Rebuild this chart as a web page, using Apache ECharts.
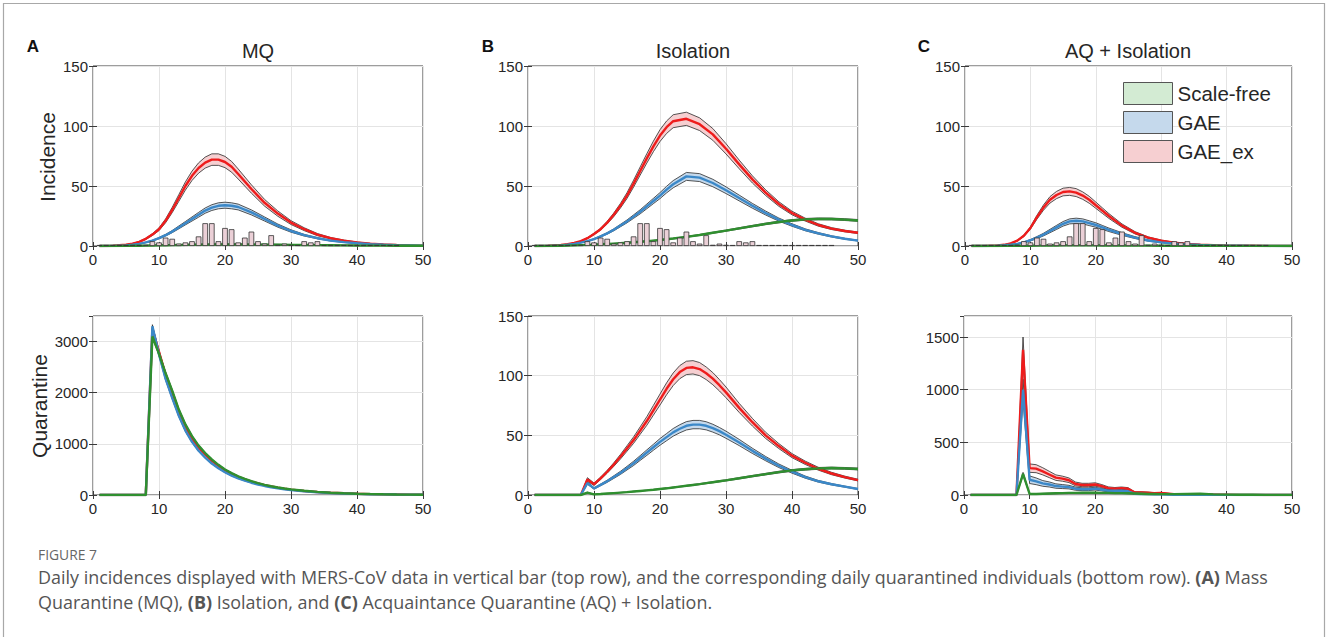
<!DOCTYPE html>
<html><head><meta charset="utf-8">
<script src="https://cdn.jsdelivr.net/npm/echarts@6/dist/echarts.min.js"></script>
<style>html,body{margin:0;padding:0;background:#fff;}#c{width:1328px;height:637px;}</style>
</head><body><div id="c"></div>
<script>
// ---------- DATA ----------
const TX = [1,3,5,6,7,8,9,10,11,12,13,14,15,16,17,18,19,20,21,22,24,26,28,30,32,34,36,38,40,42,44,46,48,50];
const BX = [1,7,8,9,10,11,12,13,14,15,16,17,18,19,20,21,22,23,24,25,26,27,28,29,30,32,34,36,38,40,42,44,46,48,50];

// MERS-CoV daily data (bars), days 1..46
const BAR_COUNTS = [0,0,0,0,0,0,0,1,4,3,7,6,2,3,4,8,19,19,4,15,14,3,7,12,4,2,9,1,2,1,0,4,3,4,0,0,0,0,0,0,0,0,0,0,0,0];

// Panel A top: MQ incidence
const MQ_INC_SF      = [0,0.05,0.1,0.15,0.2,0.3,0.4,0.5,0.6,0.7,0.8,0.9,1,1.1,1.15,1.2,1.2,1.2,1.2,1.2,1.15,1.1,1,0.9,0.8,0.7,0.6,0.5,0.4,0.35,0.3,0.25,0.2,0.2];
const MQ_INC_SF_HW   = [0,0,0.05,0.1,0.1,0.15,0.2,0.25,0.3,0.3,0.35,0.4,0.4,0.45,0.45,0.5,0.5,0.5,0.5,0.5,0.5,0.45,0.4,0.4,0.35,0.3,0.3,0.25,0.2,0.2,0.15,0.15,0.1,0.1];
const MQ_INC_GAE     = [0,0.1,0.5,1,1.8,3,4.5,6.5,9,12,15.5,19,22.5,26,29.5,32,33.5,34,33.5,32.5,28,22.5,17,12.5,9,6.5,4.5,3.2,2.3,1.6,1.1,0.7,0.5,0.3];
const MQ_INC_GAE_HW  = [0,0,0.05,0.1,0.15,0.25,0.35,0.5,0.7,0.9,1.2,1.4,1.7,2,2.2,2.4,2.5,2.5,2.5,2.4,2.1,1.7,1.3,1,0.7,0.5,0.35,0.25,0.2,0.15,0.1,0.05,0.05,0];
const MQ_INC_GAEX    = [0,0.2,1,2,3.5,6,9.5,14,21,30,40,50,58.5,65,69.5,72,72,70,66,60,47.5,36,27,19.5,14,9.5,6.5,4.5,3,2,1.3,0.8,0.5,0.3];
const MQ_INC_GAEX_HW = [0,0,0.1,0.2,0.3,0.5,0.8,1.1,1.6,2.2,2.8,3.4,3.9,4.3,4.6,4.8,4.8,4.7,4.5,4.2,3.5,2.8,2.2,1.6,1.2,0.9,0.6,0.45,0.3,0.2,0.15,0.1,0.1,0.05];

// Panel B top: Isolation incidence
const ISO_INC_SF      = [0,0,0.2,0.3,0.5,0.7,0.9,1.1,1.4,1.7,2,2.3,2.7,3.1,3.5,4,4.5,5,5.6,6.2,7.6,9.2,11,12.8,14.7,16.6,18.4,20,21.3,22.2,22.6,22.5,22,21.3];
const ISO_INC_SF_HW   = [0,0,0,0,0.05,0.05,0.1,0.1,0.1,0.15,0.15,0.15,0.2,0.2,0.2,0.25,0.25,0.3,0.3,0.3,0.35,0.4,0.45,0.5,0.55,0.6,0.65,0.7,0.7,0.75,0.75,0.75,0.75,0.75];
const ISO_INC_GAE     = [0,0.1,0.5,1,1.7,2.8,4,5.8,8,10.5,13.5,17,20.5,24.5,28.5,33,37.5,42,47,51.5,58,57,52.5,46.5,40,33.5,27.5,22,17.5,13.5,10.5,8,6,4.5];
const ISO_INC_GAE_HW  = [0,0,0.05,0.1,0.1,0.15,0.25,0.35,0.5,0.65,0.8,1,1.2,1.45,1.7,1.95,2.2,2.5,2.75,3,3.3,3.3,3.1,2.8,2.4,2,1.65,1.3,1.05,0.8,0.65,0.5,0.4,0.3];
const ISO_INC_GAEX    = [0,0.2,0.8,1.5,2.5,4,6.5,10,14,19.5,26,33.5,42,52,62.5,73,83,92,99,104,106,101.5,93,81,68,55.5,44.5,35,27.5,22,17.5,14.5,12.5,11];
const ISO_INC_GAEX_HW = [0,0,0.05,0.1,0.15,0.25,0.4,0.6,0.8,1.1,1.5,1.9,2.4,2.9,3.4,3.9,4.4,4.9,5.2,5.4,5.5,5.3,4.9,4.3,3.6,3,2.4,1.9,1.5,1.2,1,0.8,0.7,0.6];

// Panel C top: AQ + Isolation incidence
const AQ_INC_SF      = [0,0,0.05,0.1,0.1,0.15,0.2,0.25,0.3,0.35,0.4,0.45,0.5,0.5,0.5,0.5,0.5,0.5,0.45,0.45,0.4,0.35,0.3,0.25,0.2,0.2,0.15,0.15,0.1,0.1,0.1,0.05,0.05,0.05];
const AQ_INC_SF_HW   = [0,0,0,0.05,0.05,0.05,0.1,0.1,0.1,0.15,0.15,0.15,0.2,0.2,0.2,0.2,0.2,0.2,0.2,0.2,0.15,0.15,0.15,0.1,0.1,0.1,0.05,0.05,0.05,0.05,0,0,0,0];
const AQ_INC_GAE     = [0,0,0.3,0.6,1,1.8,3,4.8,7,9.5,12.5,15.5,18.5,20.5,21,20.5,19,17.5,15.5,13.5,10,7,4.6,3,2,1.3,0.8,0.5,0.3,0.2,0.1,0.1,0,0];
const AQ_INC_GAE_HW  = [0,0,0.05,0.1,0.15,0.25,0.4,0.6,0.85,1.1,1.4,1.7,1.9,2.1,2.2,2.1,2,1.85,1.65,1.45,1.1,0.8,0.55,0.35,0.25,0.15,0.1,0.05,0.05,0,0,0,0,0];
const AQ_INC_GAEX    = [0,0.1,0.5,1,2.2,4.5,8.5,15,24,32,38.5,42.5,45,45.5,44.5,42,38.5,34,29.5,25,17,11,7,4.5,2.8,1.8,1.1,0.7,0.4,0.3,0.2,0.1,0.1,0];
const AQ_INC_GAEX_HW = [0,0,0.05,0.1,0.2,0.35,0.6,1,1.6,2.2,2.7,3,3.2,3.3,3.3,3.1,2.9,2.6,2.3,2,1.4,0.95,0.6,0.4,0.25,0.15,0.1,0.05,0.05,0,0,0,0,0];

// Panel A bottom: MQ quarantine
const MQ_QUA_SF      = [0,0,0,3100,2760,2380,2040,1670,1380,1150,965,820,695,590,500,428,366,314,270,232,199,171,147,127,110,82,61,45,34,25,19,14,10,7.5,5];
const MQ_QUA_SF_HW   = [0,0,0,30,28,25,22,19,16,13,11,9,8,7,6,5,4.5,4,3.5,3,2.5,2.2,2,1.7,1.5,1.2,0.9,0.7,0.5,0.4,0.3,0.25,0.2,0.15,0.1];
const MQ_QUA_GAE     = [0,0,0,3300,2750,2270,1900,1550,1260,1040,865,730,615,525,445,380,325,280,240,206,177,152,131,113,97,72,54,40,30,22,16,12,9,6.5,4.5];
const MQ_QUA_GAE_HW  = [0,0,0,30,30,25,22,19,16,13,11,9,8,7,6,5,4.5,4,3.5,3,2.5,2.2,2,1.7,1.5,1.2,0.9,0.7,0.5,0.4,0.3,0.25,0.2,0.15,0.1];
const MQ_QUA_GAEX    = [0,0,0,3250,2800,2350,2000,1630,1340,1110,930,790,670,570,485,415,355,305,262,225,193,166,143,123,106,79,59,44,33,24,18,13,10,7,5];
const MQ_QUA_GAEX_HW = [0,0,0,40,35,30,26,22,18,15,13,11,9,8,7,6,5,4.5,4,3.5,3,2.5,2.2,2,1.7,1.3,1,0.8,0.6,0.5,0.4,0.3,0.2,0.2,0.1];

// Panel B bottom: Isolation quarantine
const ISO_QUA_SF      = [0,0,0,2,0.5,0.8,1.2,1.6,2,2.4,2.9,3.4,3.9,4.4,5,5.6,6.3,7,7.7,8.4,9.1,9.9,10.7,11.5,12.3,14,15.8,17.5,19.2,20.6,21.6,22.3,22.6,22.3,21.8];
const ISO_QUA_SF_HW   = [0,0,0,0.3,0.1,0.1,0.1,0.15,0.15,0.2,0.2,0.2,0.25,0.25,0.3,0.3,0.3,0.35,0.35,0.4,0.4,0.45,0.45,0.5,0.5,0.55,0.6,0.65,0.7,0.7,0.75,0.75,0.75,0.75,0.75];
const ISO_QUA_GAE     = [0,0,0,10,5.5,8.5,11.5,15,18.5,22.5,26.5,31,35.5,40,44.5,48.5,52.5,55.5,58,59,59,58,56,53.5,50.5,44,37,30.5,24.5,19.5,15,11.5,9,7,5];
const ISO_QUA_GAE_HW  = [0,0,0,1,0.6,0.7,0.9,1.1,1.3,1.5,1.8,2,2.3,2.5,2.8,3,3.2,3.4,3.5,3.5,3.5,3.4,3.3,3.1,3,2.6,2.2,1.8,1.5,1.2,0.9,0.7,0.55,0.45,0.35];
const ISO_QUA_GAEX    = [0,0,0,13,9,14,19.5,25.5,32,39,46,54,62,71,80,89,97,103,106.5,107,105.5,102,97.5,92,86,73,61,50,41,33,27,22,18,15,12.5];
const ISO_QUA_GAEX_HW = [0,0,0,1.5,1,1,1.2,1.5,1.9,2.3,2.7,3.1,3.6,4.1,4.6,5,5.3,5.5,5.6,5.6,5.5,5.3,5.1,4.8,4.5,3.8,3.2,2.6,2.1,1.7,1.4,1.2,1,0.8,0.7];

// Panel C bottom: AQ + Isolation quarantine
const AQ_QUA_SF      = [0,0,0,200,10,10,12,14,16,18,20,20,22,22,22,20,20,18,18,16,14,12,10,10,8,8,10,12,6,4,3,2,1,1,1];
const AQ_QUA_SF_HW   = [0,0,0,15,3,3,3,3,3,3,3,3,3,3,3,3,3,3,3,3,3,3,3,3,3,2,2,2,2,1,1,1,0.5,0.5,0.5];
const AQ_QUA_GAE     = [0,0,0,1000,145,130,110,100,85,80,75,60,55,55,60,50,40,40,40,35,12,10,8,6,6,3,2,3,1,1,0,0,0,0,0];
const AQ_QUA_GAE_HW  = [0,0,0,100,36,32,27,24,21,19,17,15,13,13,13,11,10,9,9,8,4,3,3,2,2,1,1,1,0.5,0.5,0,0,0,0,0];
const AQ_QUA_GAEX    = [0,0,0,1380,255,250,225,195,165,155,140,105,95,95,100,85,65,60,65,60,25,25,22,18,20,8,5,8,3,2,1,1,0,0,0];
const AQ_QUA_GAEX_HW = [0,0,0,120,40,38,34,30,26,24,22,18,16,16,16,14,12,11,11,10,6,6,5,4,4,2,2,2,1,1,0,0,0,0,0];

const X_TICKS = {min:0, max:50, interval:10};
const Y_RANGES = [[0,150,50],[0,150,50],[0,150,50],[0,3500,1000],[0,150,50],[0,1700,500]];
const TITLES = ['MQ','Isolation','AQ + Isolation'];
const LETTERS = ['A','B','C'];
const LEGEND_NAMES = ['Scale-free','GAE','GAE_ex'];

// ---------- STYLE / LAYOUT ----------
const FONT = '"Liberation Sans", Arial, Helvetica, sans-serif';
const TXT = '#262626';
const EDGE = '#2a2a2a';
const COL = {sf:'#2f8f2f', gae:'#3b88c8', gaex:'#ee1c1c'};
const FILL = {sf:'#d3ebd3', gae:'#c5d9ec', gaex:'#f6cfd1'};
const GRIDS = [
  {left:93, top:66, width:330, height:180},
  {left:528, top:66, width:330, height:180},
  {left:965, top:66, width:327, height:180},
  {left:93, top:316, width:330, height:179},
  {left:528, top:316, width:330, height:179},
  {left:964, top:316, width:328, height:179}
];

const xAxes = [], yAxes = [], grids = [];
GRIDS.forEach((g, i) => {
  grids.push(Object.assign({show:true, borderColor:'#3a3a3a', borderWidth:1, backgroundColor:'transparent', containLabel:false}, g));
  const yr = Y_RANGES[i];
  xAxes.push({type:'value', gridIndex:i, min:X_TICKS.min, max:X_TICKS.max, interval:X_TICKS.interval,
    axisLine:{show:false}, axisTick:{show:true, inside:true, length:4, lineStyle:{color:'#3a3a3a'}},
    axisLabel:{fontSize:15, color:TXT, fontFamily:FONT, margin:6, formatter:v => String(v)},
    splitLine:{show:true, lineStyle:{color:'#e4e4e4', width:1}}});
  xAxes.push({type:'value', gridIndex:i, position:'top', min:X_TICKS.min, max:X_TICKS.max, interval:X_TICKS.interval,
    axisLine:{show:false}, axisTick:{show:true, inside:true, length:4, lineStyle:{color:'#3a3a3a'}},
    axisLabel:{show:false}, splitLine:{show:false}});
  yAxes.push({type:'value', gridIndex:i, min:yr[0], max:yr[1], interval:yr[2],
    axisLine:{show:false}, axisTick:{show:true, inside:true, length:4, lineStyle:{color:'#3a3a3a'}},
    axisLabel:{fontSize:15, color:TXT, fontFamily:FONT, margin:5, showMaxLabel: yr[1] % yr[2] === 0,
      formatter:v => (v % yr[2] === 0 ? String(v) : '')},
    splitLine:{show:true, lineStyle:{color:'#e4e4e4', width:1}}});
  yAxes.push({type:'value', gridIndex:i, position:'right', min:yr[0], max:yr[1], interval:yr[2],
    axisLine:{show:false}, axisTick:{show:true, inside:true, length:4, lineStyle:{color:'#3a3a3a'}},
    axisLabel:{show:false}, splitLine:{show:false}});
});

const bandSeries = [], meanSeries = [], barSeries = [];
function addModel(g, xs, mean, hw, key, name) {
  const lo = xs.map((x,k) => Math.max(0, mean[k]-hw[k]));
  const hi = xs.map((x,k) => mean[k] + hw[k]);
  const band = {type:'custom', xAxisIndex:2*g, yAxisIndex:2*g, silent:true, animation:false, z:2,
    data: xs.map((x,k) => [x, lo[k], hi[k]]),
    encode:{x:0, y:[1,2]},
    itemStyle:{color:FILL[key]},
    renderItem: function(params, api) {
      if (params.dataIndex !== 0) return null;
      const pts = [];
      for (let k = 0; k < xs.length; k++) pts.push(api.coord([xs[k], hi[k]]));
      for (let k = xs.length - 1; k >= 0; k--) pts.push(api.coord([xs[k], lo[k]]));
      return {type:'polygon', shape:{points:pts}, style:{fill:FILL[key], stroke:null}};
    }};
  if (name) band.name = name;
  bandSeries.push(band);
  const edge = {type:'line', xAxisIndex:2*g, yAxisIndex:2*g, symbol:'none', smooth:false, silent:true, animation:false,
    lineStyle:{color:EDGE, width:0.8}, z:2};
  bandSeries.push(Object.assign({}, edge, {data: xs.map((x,k) => [x, lo[k]])}));
  bandSeries.push(Object.assign({}, edge, {data: xs.map((x,k) => [x, hi[k]])}));
  meanSeries.push({type:'line', xAxisIndex:2*g, yAxisIndex:2*g, symbol:'none', smooth:false, silent:true, animation:false,
    data: xs.map((x,k) => [x, mean[k]]), lineStyle:{color:COL[key], width:2.4}, z:3});
}
const PANELS = [
  [TX, MQ_INC_SF, MQ_INC_SF_HW, MQ_INC_GAE, MQ_INC_GAE_HW, MQ_INC_GAEX, MQ_INC_GAEX_HW],
  [TX, ISO_INC_SF, ISO_INC_SF_HW, ISO_INC_GAE, ISO_INC_GAE_HW, ISO_INC_GAEX, ISO_INC_GAEX_HW],
  [TX, AQ_INC_SF, AQ_INC_SF_HW, AQ_INC_GAE, AQ_INC_GAE_HW, AQ_INC_GAEX, AQ_INC_GAEX_HW],
  [BX, MQ_QUA_SF, MQ_QUA_SF_HW, MQ_QUA_GAE, MQ_QUA_GAE_HW, MQ_QUA_GAEX, MQ_QUA_GAEX_HW],
  [BX, ISO_QUA_SF, ISO_QUA_SF_HW, ISO_QUA_GAE, ISO_QUA_GAE_HW, ISO_QUA_GAEX, ISO_QUA_GAEX_HW],
  [BX, AQ_QUA_SF, AQ_QUA_SF_HW, AQ_QUA_GAE, AQ_QUA_GAE_HW, AQ_QUA_GAEX, AQ_QUA_GAEX_HW]
];
// draw order: GAE_ex, GAE, Scale-free (green ends up on top)
PANELS.forEach((p, g) => {
  const legendPanel = (g === 2);
  addModel(g, p[0], p[5], p[6], 'gaex', legendPanel ? LEGEND_NAMES[2] : undefined);
  addModel(g, p[0], p[3], p[4], 'gae',  legendPanel ? LEGEND_NAMES[1] : undefined);
  addModel(g, p[0], p[1], p[2], 'sf',   legendPanel ? LEGEND_NAMES[0] : undefined);
});
[0,1,2].forEach(g => {
  barSeries.push({type:'bar', xAxisIndex:2*g, yAxisIndex:2*g, barWidth:5.6, barMinHeight:1, silent:true, animation:false,
    data: BAR_COUNTS.map((v,k) => [k+1, v]),
    itemStyle:{color:'#ebd0d7', borderColor:'#333', borderWidth:0.8}, z:4});
});

// caption font fitting
const ctx = document.createElement('canvas').getContext('2d');
function fitSize(text, family, weight, target) {
  ctx.font = weight + ' 100px ' + family;
  return 100 * target / ctx.measureText(text).width;
}
const CAP_FAMILY = '"Open Sans", "Noto Sans", sans-serif';
const CAP1_PLAIN = 'Daily incidences displayed with MERS-CoV data in vertical bar (top row), and the corresponding daily quarantined individuals (bottom row). (A) Mass';
const capSize = fitSize(CAP1_PLAIN, CAP_FAMILY, 'normal', 1228);
const figSize = fitSize('FIGURE 7', CAP_FAMILY, 'normal', 59);

const CAP_X = 38;
const graphics = [
  {type:'rect', shape:{x:3.5, y:3.5, width:1321, height:700}, style:{fill:'none', stroke:'#a8a8a8', lineWidth:1.2}, silent:true, z:0},
];
const TITLE_X = [258, 693, 1128];
const LETTER_X = [33, 488, 924];
TITLES.forEach((t, i) => {
  graphics.push({type:'text', x:TITLE_X[i], y:51, style:{text:t, fill:TXT, fontSize:20, fontFamily:FONT,
    align:'center', textAlign:'center', verticalAlign:'middle', textVerticalAlign:'middle'}});
  graphics.push({type:'text', x:LETTER_X[i], y:46, style:{text:LETTERS[i], fill:'#111', fontSize:17, fontWeight:'bold', fontFamily:FONT,
    align:'center', textAlign:'center', verticalAlign:'middle', textVerticalAlign:'middle'}});
});
graphics.push({type:'text', x:47, y:157, rotation:Math.PI/2, style:{text:'Incidence', fill:TXT, fontSize:21, fontFamily:FONT,
  align:'center', textAlign:'center', verticalAlign:'middle', textVerticalAlign:'middle'}});
graphics.push({type:'text', x:39, y:406, rotation:Math.PI/2, style:{text:'Quarantine', fill:TXT, fontSize:21, fontFamily:FONT,
  align:'center', textAlign:'center', verticalAlign:'middle', textVerticalAlign:'middle'}});
graphics.push({type:'text', x:CAP_X, y:554, style:{text:'FIGURE 7', fill:'#666', fontSize:figSize, fontFamily:CAP_FAMILY,
  align:'left', textAlign:'left', verticalAlign:'middle', textVerticalAlign:'middle'}});
const richB = {b:{fontWeight:'bold', fontSize:capSize, fontFamily:CAP_FAMILY, fill:'#555'}};
graphics.push({type:'text', x:CAP_X, y:577, style:{
  text:'Daily incidences displayed with MERS-CoV data in vertical bar (top row), and the corresponding daily quarantined individuals (bottom row). {b|(A)} Mass',
  rich:richB, fill:'#555', fontSize:capSize, fontFamily:CAP_FAMILY,
  align:'left', textAlign:'left', verticalAlign:'middle', textVerticalAlign:'middle'}});
graphics.push({type:'text', x:CAP_X, y:602, style:{
  text:'Quarantine (MQ), {b|(B)} Isolation, and {b|(C)} Acquaintance Quarantine (AQ) + Isolation.',
  rich:richB, fill:'#555', fontSize:capSize, fontFamily:CAP_FAMILY,
  align:'left', textAlign:'left', verticalAlign:'middle', textVerticalAlign:'middle'}});

const chart = echarts.init(document.getElementById('c'), null, {renderer:'svg', width:1328, height:637});
chart.setOption({
  animation:false,
  backgroundColor:'#ffffff',
  grid: grids,
  xAxis: xAxes,
  yAxis: yAxes,
  legend: {show:true, left:1123, top:82, orient:'vertical', padding:0, itemWidth:49, itemHeight:22, itemGap:6,
    selectedMode:false, textStyle:{fontSize:20.5, color:TXT, fontFamily:FONT},
    data: LEGEND_NAMES.map((n, i) => ({name:n, icon:'rect',
      itemStyle:{color:[FILL.sf, FILL.gae, FILL.gaex][i], borderColor:'#555', borderWidth:1}}))},
  series: bandSeries.concat(meanSeries, barSeries),
  graphic: {elements: graphics}
});
</script></body></html>
